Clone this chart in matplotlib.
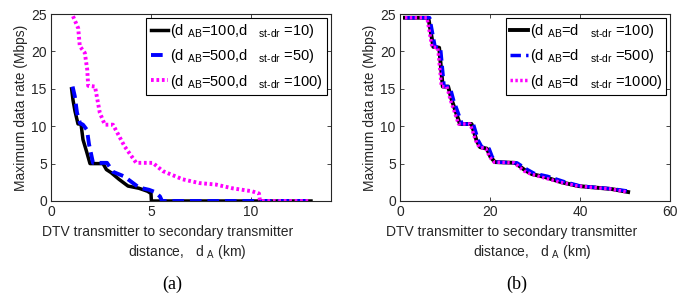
import numpy as np
import matplotlib
matplotlib.use("Agg")
import matplotlib.pyplot as plt

plt.rcParams['font.family'] = ['Liberation Sans', 'DejaVu Sans']
plt.rcParams['mathtext.fontset'] = 'custom'
plt.rcParams['mathtext.rm'] = 'Liberation Sans'
plt.rcParams['mathtext.it'] = 'Liberation Sans:italic'
plt.rcParams['mathtext.bf'] = 'Liberation Sans:bold'

# ---- panel (a) ----
a_black_x = [1.03, 1.1, 1.2, 1.35, 1.5, 1.6, 1.78, 1.95, 2.6, 2.77, 3.0, 3.4, 3.85, 4.4, 4.83, 5.0, 5.02, 13.0]
a_black_y = [15.0, 13.5, 12.0, 10.3, 10.3, 8.2, 6.6, 5.0, 5.0, 4.2, 3.8, 2.9, 2.0, 1.7, 1.3, 1.0, 0.0, 0.0]
a_blue_x = [1.08, 1.19, 1.3, 1.45, 1.6, 1.8, 1.9, 2.1, 2.8, 3.1, 3.65, 4.4, 4.9, 5.2, 5.45, 5.55, 13.0]
a_blue_y = [15.3, 14.0, 11.8, 10.4, 10.2, 9.5, 7.6, 5.1, 5.1, 3.9, 3.3, 1.8, 1.5, 1.2, 0.6, 0.0, 0.0]
a_mag_x = [1.1, 1.36, 1.44, 1.69, 1.81, 1.86, 2.2, 2.44, 2.69, 3.1, 3.68, 4.26, 5.09, 5.59, 6.58, 7.41, 8.24, 9.07, 10.05, 10.4, 10.45, 12.9]
a_mag_y = [24.7, 23.1, 20.7, 19.8, 17.6, 15.4, 15.3, 11.8, 10.2, 10.2, 7.3, 5.1, 5.1, 4.0, 2.9, 2.4, 2.2, 1.7, 1.3, 1.0, 0.0, 0.0]
a_labels = [r'(d $_{\mathrm{AB}}$=100,d$\quad_{\text{st-dr}}$ =10)',
            r'(d $_{\mathrm{AB}}$=500,d$\quad_{\text{st-dr}}$ =50)',
            r'(d $_{\mathrm{AB}}$=500,d$\quad_{\text{st-dr}}$ =100)']

# ---- panel (b) ----
b_black_x = [1.1, 6.3, 7.4, 8.7, 9.5, 10.7, 11.5, 13.3, 15.9, 17.0, 17.8, 19.3, 20.1, 21.1, 25.6, 27.8, 29.3, 32.2, 35.9, 39.6, 43.3, 47.0, 50.7]
b_black_y = [24.5, 24.5, 20.6, 20.5, 15.3, 15.3, 13.5, 10.3, 10.3, 8.1, 7.2, 7.0, 5.9, 5.2, 5.1, 4.1, 3.6, 3.2, 2.5, 2.0, 1.8, 1.6, 1.2]
b_blue_x = [1.1, 6.6, 7.8, 9.0, 9.8, 11.1, 11.9, 13.8, 16.3, 17.4, 18.2, 19.8, 20.5, 21.4, 26.0, 28.3, 29.8, 32.8, 36.4, 40.1, 43.8, 47.5, 51.0]
b_blue_y = [24.5, 24.5, 20.6, 20.5, 15.3, 15.3, 13.5, 10.3, 10.3, 8.1, 7.2, 7.0, 5.9, 5.2, 5.1, 4.2, 3.7, 3.3, 2.6, 2.0, 1.8, 1.6, 1.3]
b_mag_x = [1.1, 6.0, 7.1, 8.4, 9.2, 10.4, 11.2, 13.0, 15.6, 16.8, 17.6, 19.1, 19.9, 20.9, 25.4, 27.6, 29.1, 32.0, 35.7, 39.4, 43.1, 46.8, 50.5]
b_mag_y = [24.5, 24.5, 20.6, 20.5, 15.3, 15.3, 13.5, 10.3, 10.3, 8.1, 7.2, 7.0, 5.9, 5.2, 5.1, 4.0, 3.6, 3.1, 2.5, 2.0, 1.8, 1.6, 1.2]
b_labels = [r'(d $_{\mathrm{AB}}$=d$\quad_{\text{st-dr}}$ =100)',
            r'(d $_{\mathrm{AB}}$=d$\quad_{\text{st-dr}}$ =500)',
            r'(d $_{\mathrm{AB}}$=d$\quad_{\text{st-dr}}$ =1000)']

W, H = 689, 296
fig = plt.figure(figsize=(W / 100, H / 100), dpi=100)


def px_axes(l, r, t, b):
    return fig.add_axes([l / W, 1 - b / H, (r - l) / W, (b - t) / H])


def style(ax, xlim, xticks):
    ax.set_xlim(*xlim)
    ax.set_ylim(0, 25)
    ax.set_xticks(xticks)
    ax.set_yticks([0, 5, 10, 15, 20, 25])
    ax.tick_params(direction='in', top=True, right=True, labelsize=10,
                   length=3, width=0.6, colors='#262626', pad=3)
    for s in ax.spines.values():
        s.set_linewidth(0.8)
        s.set_color('#262626')
    ax.set_ylabel('Maximum data rate (Mbps)', fontsize=10, labelpad=2, color='#262626')


ax1 = px_axes(51, 331, 14, 201)
ax1.plot(a_black_x, a_black_y, color='black', lw=2.5, label=a_labels[0])
ax1.plot(a_blue_x, a_blue_y, color='blue', lw=2.8, ls=(0, (3, 1.5)), label=a_labels[1])
ax1.plot(a_mag_x, a_mag_y, color='magenta', lw=2.8, ls=(0, (0.7, 0.7)), label=a_labels[2])
style(ax1, (0, 14), [0, 5, 10])

ax2 = px_axes(400, 670, 14, 201)
ax2.plot(b_black_x, b_black_y, color='black', lw=2.8, label=b_labels[0])
ax2.plot(b_blue_x, b_blue_y, color='blue', lw=2.5, ls=(0, (3, 1.5)), label=b_labels[1])
ax2.plot(b_mag_x, b_mag_y, color='magenta', lw=2.5, ls=(0, (0.7, 0.7)), label=b_labels[2])
style(ax2, (0, 60), [0, 20, 40, 60])

for ax in (ax1, ax2):
    leg = ax.legend(loc='upper right', fontsize=10.5, handlelength=1.2, handletextpad=0.15,
                    labelspacing=0.5, borderpad=0.3, borderaxespad=0.25, fancybox=False,
                    framealpha=1, edgecolor='black')
    leg.get_frame().set_linewidth(0.8)

# x labels, two lines each
for cx1, cx2, cap_x, cap in ((168, 187, 172, '(a)'), (512, 532, 517, '(b)')):
    fig.text(cx1 / W, 1 - 232 / H, 'DTV transmitter to secondary transmitter',
             ha='center', va='center', fontsize=10, color='#262626')
    fig.text(cx2 / W, 1 - 252 / H, r'distance,   d $_{\mathrm{A}}$ (km)',
             ha='center', va='center', fontsize=10, color='#262626')
    fig.text(cap_x / W, 1 - 284 / H, cap, ha='center', va='center',
             fontsize=13, family='Liberation Serif')

fig.savefig('out.png', dpi=100)
